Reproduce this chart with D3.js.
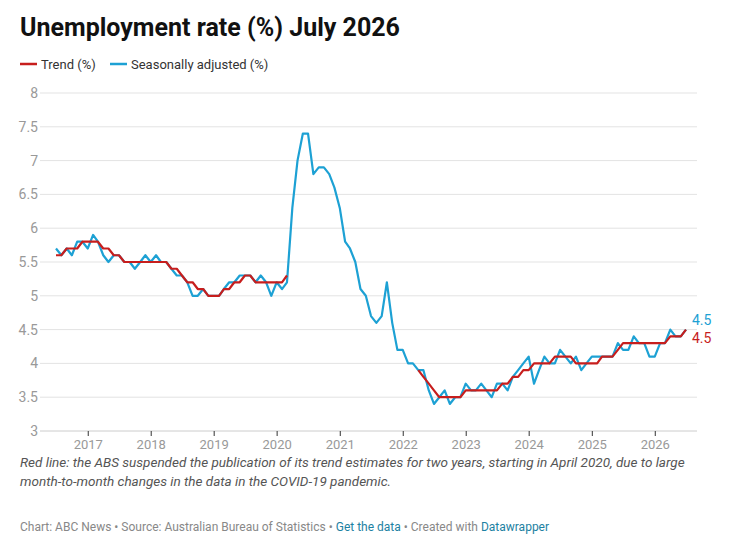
<!DOCTYPE html>
<html><head><meta charset="utf-8">
<script src="https://cdn.jsdelivr.net/npm/d3@7"></script>
<style>
body{margin:0;background:#fff;font-family:Roboto,"Noto Sans",sans-serif;}
.tick text{fill:#999;}
</style></head><body><div id="chart"></div>
<script>
// monthly values, July 2016 .. July 2026
var startMonth = new Date(2016, 6, 1);
var seasonal = [5.7,5.6,5.7,5.6,5.8,5.8,
 5.7,5.9,5.8,5.6,5.5,5.6,5.6,5.5,5.5,5.4,5.5,5.6,
 5.5,5.6,5.5,5.5,5.4,5.3,5.3,5.2,5.0,5.0,5.1,5.0,
 5.0,5.0,5.1,5.2,5.2,5.3,5.3,5.3,5.2,5.3,5.2,5.0,
 5.2,5.1,5.2,6.3,7.0,7.4,7.4,6.8,6.9,6.9,6.8,6.6,
 6.3,5.8,5.7,5.5,5.1,5.0,4.7,4.6,4.7,5.2,4.6,4.2,
 4.2,4.0,4.0,3.9,3.9,3.6,3.4,3.5,3.6,3.4,3.5,3.5,
 3.7,3.6,3.6,3.7,3.6,3.5,3.7,3.7,3.6,3.8,3.9,4.0,
 4.1,3.7,3.9,4.1,4.0,4.0,4.2,4.1,4.0,4.1,3.9,4.0,
 4.1,4.1,4.1,4.1,4.1,4.3,4.2,4.2,4.4,4.3,4.3,4.1,
 4.1,4.3,4.3,4.5,4.4,4.4,4.5];
var trend = [5.6,5.6,5.7,5.7,5.7,5.8,
 5.8,5.8,5.8,5.7,5.7,5.6,5.6,5.5,5.5,5.5,5.5,5.5,
 5.5,5.5,5.5,5.5,5.4,5.4,5.3,5.2,5.2,5.1,5.1,5.0,
 5.0,5.0,5.1,5.1,5.2,5.2,5.3,5.3,5.2,5.2,5.2,5.2,
 5.2,5.2,5.3,
 null,null,null,null,null,null,null,null,null,
 null,null,null,null,null,null,null,null,null,null,null,null,
 null,null,null,
 3.9,3.8,3.7,3.6,3.5,3.5,3.5,3.5,3.5,
 3.6,3.6,3.6,3.6,3.6,3.6,3.6,3.7,3.7,3.8,3.8,3.9,
 3.9,4.0,4.0,4.0,4.0,4.1,4.1,4.1,4.1,4.0,4.0,4.0,
 4.0,4.0,4.1,4.1,4.1,4.2,4.3,4.3,4.3,4.3,4.3,4.3,
 4.3,4.3,4.3,4.4,4.4,4.4,4.5];
var yTicks = [3,3.5,4,4.5,5,5.5,6,6.5,7,7.5,8];
var yearTicks = [2017,2018,2019,2020,2021,2022,2023,2024,2025,2026];

var width = 739, height = 548;
var blue = "#1da1d4", red = "#c71e1d";

var svg = d3.select("#chart").append("svg")
  .attr("width", width).attr("height", height);

function monthDate(i) { return d3.timeMonth.offset(startMonth, i); }

var x = d3.scaleTime()
  .domain([startMonth, monthDate(seasonal.length - 1)])
  .range([56, 686]);
var y = d3.scaleLinear().domain([3, 8]).range([431, 93]);

// title + legend
svg.append("text").attr("x", 20).attr("y", 36)
  .attr("font-size", 25).attr("font-weight", 700).attr("fill", "#111")
  .text("Unemployment rate (%) July 2026");

var legend = [["Trend (%)", red, 20], ["Seasonally adjusted (%)", blue, 110]];
legend.forEach(function(l) {
  svg.append("line").attr("x1", l[2]).attr("x2", l[2] + 17)
    .attr("y1", 64).attr("y2", 64).attr("stroke", l[1]).attr("stroke-width", 2.5);
  svg.append("text").attr("x", l[2] + 21).attr("y", 69)
    .attr("font-size", 13).attr("fill", "#333").text(l[0]);
});

// gridlines + y labels
yTicks.forEach(function(t) {
  svg.append("line").attr("x1", 40).attr("x2", 697)
    .attr("y1", y(t)).attr("y2", y(t))
    .attr("stroke", t === 3 ? "#ccc" : "#e3e3e3").attr("stroke-width", 1);
  svg.append("text").attr("x", 38).attr("y", y(t) + 5)
    .attr("text-anchor", "end").attr("font-size", 14).attr("fill", "#999")
    .text(t);
});

// x axis
var xAxis = d3.axisBottom(x)
  .tickValues(yearTicks.map(function(yr) { return new Date(yr, 0, 1); }))
  .tickFormat(d3.timeFormat("%Y")).tickSize(5).tickPadding(4);
var gx = svg.append("g").attr("transform", "translate(0,431)").call(xAxis);
gx.select(".domain").remove();
gx.selectAll(".tick line").attr("stroke", "#333");
gx.selectAll(".tick text").attr("font-size", 13).attr("fill", "#666")
  .attr("font-family", "Roboto, sans-serif");

// lines
var line = d3.line()
  .defined(function(d) { return d != null; })
  .x(function(d, i) { return x(monthDate(i)); })
  .y(function(d) { return y(d); });

var trendPts = trend.map(function(v, i) { return v == null ? null : {v: v, i: i}; });
var trendLine = d3.line()
  .defined(function(d) { return d != null; })
  .x(function(d) { return x(monthDate(d.i)); })
  .y(function(d) { return y(d.v); });

svg.append("path").attr("d", line(seasonal)).attr("fill", "none")
  .attr("stroke", blue).attr("stroke-width", 2.2).attr("stroke-linejoin", "round");
svg.append("path").attr("d", trendLine(trendPts)).attr("fill", "none")
  .attr("stroke", red).attr("stroke-width", 2.2).attr("stroke-linejoin", "round");

// end labels
var last = seasonal.length - 1;
svg.append("text").attr("x", x(monthDate(last)) + 6).attr("y", y(seasonal[last]) - 5)
  .attr("font-size", 14).attr("fill", blue).text(seasonal[last]);
svg.append("text").attr("x", x(monthDate(last)) + 6).attr("y", y(trend[last]) + 13)
  .attr("font-size", 14).attr("fill", red).text(trend[last]);

// notes
var note = ["Red line: the ABS suspended the publication of its trend estimates for two years, starting in April 2020, due to large",
  "month-to-month changes in the data in the COVID-19 pandemic."];
note.forEach(function(t, i) {
  svg.append("text").attr("x", 20).attr("y", 467 + i * 19)
    .attr("font-size", 13.5).attr("font-style", "italic").attr("fill", "#555").text(t);
});
var src = svg.append("text").attr("x", 20).attr("y", 531)
  .attr("font-size", 12).attr("fill", "#888");
src.append("tspan").text("Chart: ABC News • Source: Australian Bureau of Statistics • ");
src.append("tspan").attr("fill", "#1d81a2").text("Get the data");
src.append("tspan").text(" • Created with ");
src.append("tspan").attr("fill", "#1d81a2").text("Datawrapper");
</script></body></html>
